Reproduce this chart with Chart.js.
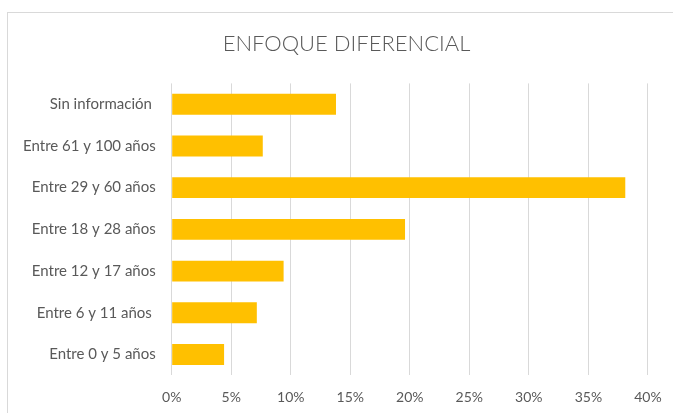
<!DOCTYPE html>
<html>
<head>
<meta charset="utf-8">
<script src="https://cdn.jsdelivr.net/npm/chart.js@4/dist/chart.umd.min.js"></script>
<style>
  html, body { margin: 0; padding: 0; overflow: hidden; background: #ffffff; width: 673px; height: 413px; }
  #frame { position: absolute; left: 7px; top: 12px; width: 677px; height: 415px; border: 1px solid #d9d9d9; background: #fff; }
  #wrap { position: absolute; left: 0; top: 0; width: 677px; height: 415px; }
</style>
</head>
<body>
<div id="frame"><div id="wrap"><canvas id="c"></canvas></div></div>
<script>
const categories = ["Sin información ", "Entre 61 y 100 años", "Entre 29 y 60 años", "Entre 18 y 28 años", "Entre 12 y 17 años", "Entre 6 y 11 años ", "Entre 0 y 5 años"];
const values = [13.8, 7.65, 38.1, 19.6, 9.4, 7.15, 4.4];
const xTicks = [0, 5, 10, 15, 20, 25, 30, 35, 40];
const titleText = "ENFOQUE DIFERENCIAL";

const textColor = "#595959";
const gridColor = "#d9d9d9";

new Chart(document.getElementById("c"), {
  type: "bar",
  data: {
    labels: categories,
    datasets: [{
      data: values,
      backgroundColor: "#FFC000",
      borderWidth: 0,
      categoryPercentage: 1.0,
      barPercentage: 0.5
    }]
  },
  options: {
    indexAxis: "y",
    responsive: true,
    maintainAspectRatio: false,
    animation: false,
    layout: { padding: 0 },
    plugins: {
      legend: { display: false },
      tooltip: { enabled: false },
      title: {
        display: true,
        text: titleText,
        color: textColor,
        font: { family: "Lato", size: 22, weight: 300, lineHeight: 1.2 },
        padding: { top: 18, bottom: 26 }
      }
    },
    scales: {
      x: {
        min: 0,
        max: 40,
        afterBuildTicks: (axis) => { axis.ticks = xTicks.map(v => ({ value: v })); },
        afterFit: (axis) => { axis.height = 52.7; },
        ticks: {
          color: textColor,
          font: { family: "Lato", size: 14 },
          padding: 14,
          callback: (v) => v + "%"
        },
        grid: { color: gridColor, lineWidth: 1, drawTicks: false },
        border: { display: false }
      },
      y: {
        afterFit: (axis) => { axis.width = 163.7; },
        ticks: {
          color: textColor,
          font: { family: "Lato", size: 15 },
          padding: 16
        },
        grid: { display: false, drawTicks: false },
        border: { display: false }
      },
      yRight: {
        axis: "y",
        type: "category",
        position: "right",
        afterFit: (axis) => { axis.width = 37.1; },
        ticks: { display: false },
        grid: { display: false, drawTicks: false },
        border: { display: false }
      }
    }
  }
});
</script>
</body>
</html>
